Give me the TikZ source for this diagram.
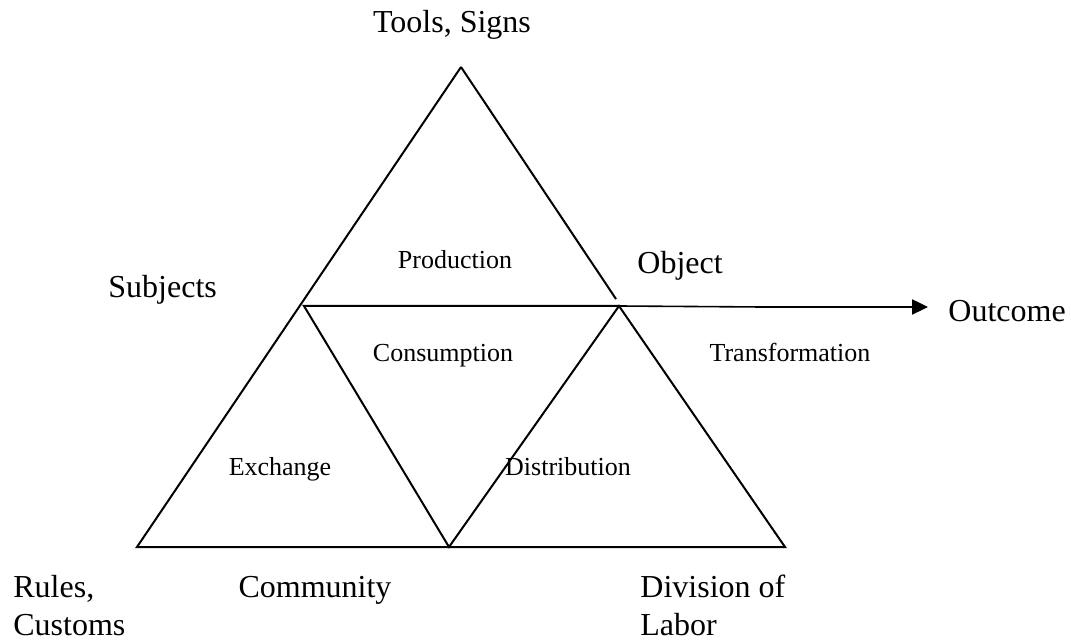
\documentclass[tikz,border=0pt]{standalone}
\usepackage{fontspec}
\setmainfont{Liberation Serif}
\usetikzlibrary{arrows.meta}
\begin{document}
\begin{tikzpicture}[x=0.5pt,y=-0.5pt,
  edge/.style={line width=1pt,black},
  biglabel/.style={font=\fontsize{16}{19}\selectfont,inner sep=0pt},
  smalllabel/.style={font=\fontsize{13}{15}\selectfont,inner sep=0pt}]
\useasboundingbox (0,0) rectangle (1071,641);
% vertices
\coordinate (A) at (461,67);
\coordinate (L) at (137,547);
\coordinate (R) at (785,547);
\coordinate (M) at (449,547);
\coordinate (P) at (304,306);
\coordinate (Q) at (619,306);
\coordinate (Qt) at (616,299);
\coordinate (S) at (762,307);
\coordinate (T) at (928,307);
% triangles
\draw[edge] (A) -- (L) -- (R) -- (Q) -- (M) -- (P) -- (Q);
\draw[edge] (A) -- (Qt);
% arrow to outcome
\draw[line width=0.8pt] (Q) -- (S);
\draw[line width=1.2pt,-{Triangle[length=8pt,width=7.5pt]}] (S) -- (T);
% labels
\node[biglabel,anchor=base] (tools) at (452,33) {Tools, Signs};
\node[biglabel,anchor=base west] (subj) at (108,298) {Subjects};
\node[biglabel,anchor=base west] (obj) at (637,274) {Object};
\node[biglabel,anchor=base west] (out) at (948,322) {Outcome};
\node[biglabel,anchor=base west,align=left] (rules) at (13,635) {Rules,\\Customs};
\node[biglabel,anchor=base] (comm) at (315,597) {Community};
\node[biglabel,anchor=base west,align=left] (div) at (640,635) {Division of\\Labor};
\node[smalllabel,anchor=base] (prod) at (455,269) {Production};
\node[smalllabel,anchor=base] (cons) at (443,362) {Consumption};
\node[smalllabel,anchor=base] (trans) at (790,362) {Transformation};
\node[smalllabel,anchor=base] (exch) at (280,475) {Exchange};
\node[smalllabel,anchor=base] (dist) at (568,475) {Distribution};
\end{tikzpicture}
\end{document}
